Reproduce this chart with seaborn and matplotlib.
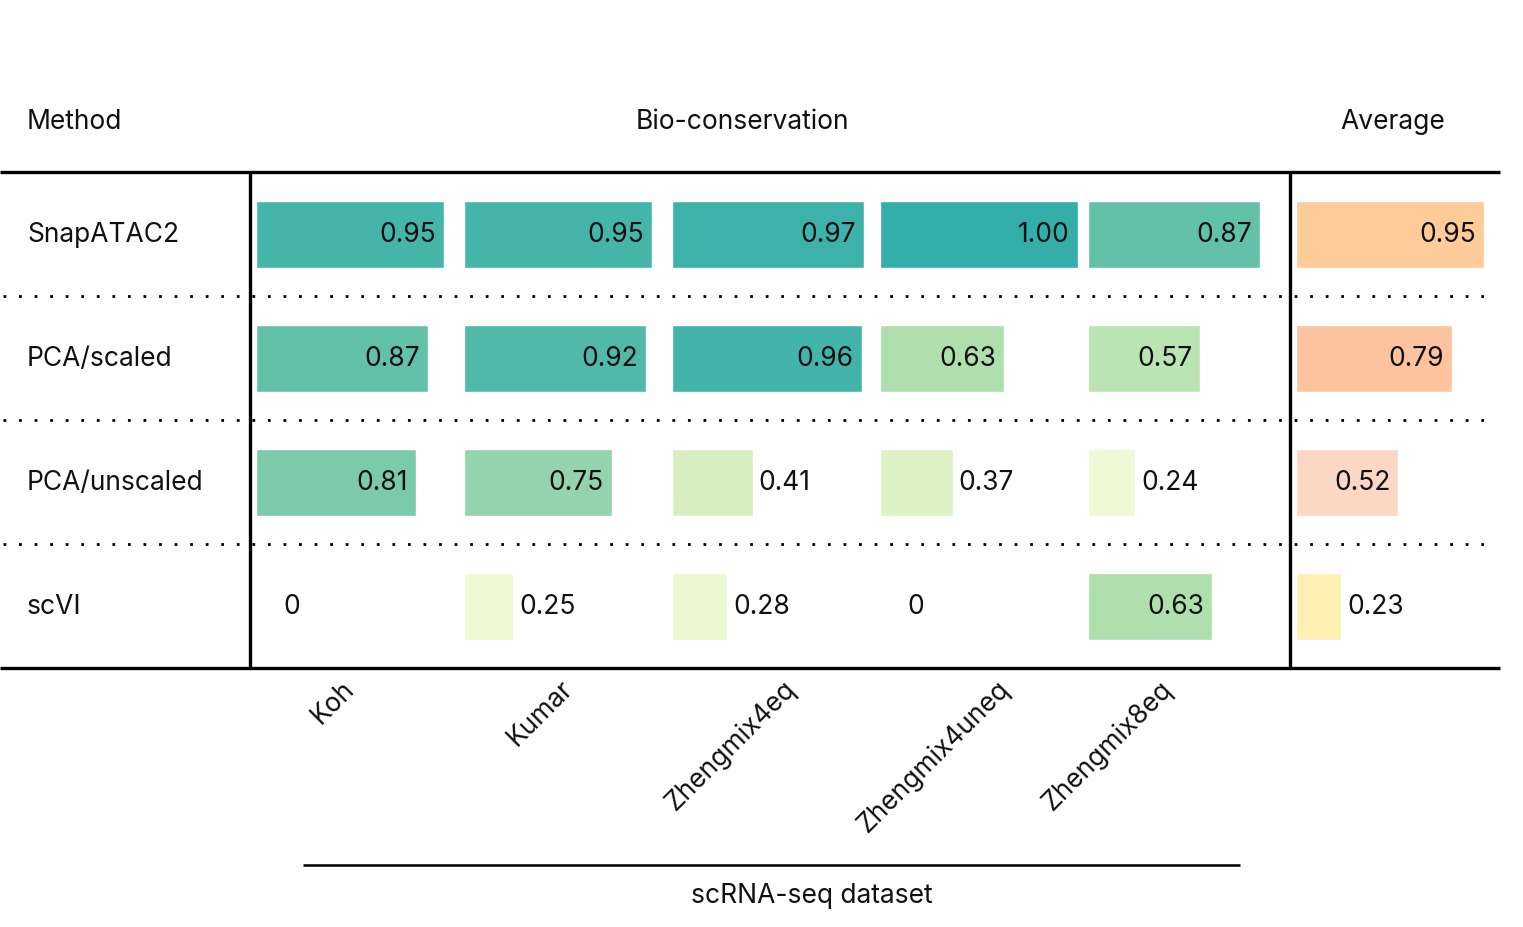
import numpy as np
import pandas as pd
import matplotlib
matplotlib.use("Agg")
import matplotlib.pyplot as plt
import seaborn as sns
from matplotlib.colors import LinearSegmentedColormap

# ---------------- data ----------------
methods = ["SnapATAC2", "PCA/scaled", "PCA/unscaled", "scVI"]
datasets = ["Koh", "Kumar", "Zhengmix4eq", "Zhengmix4uneq", "Zhengmix8eq"]
koh = [0.95, 0.87, 0.81, 0.0]
kumar = [0.95, 0.92, 0.75, 0.25]
zhengmix4eq = [0.97, 0.96, 0.41, 0.28]
zhengmix4uneq = [1.00, 0.63, 0.37, 0.0]
zhengmix8eq = [0.87, 0.57, 0.24, 0.63]
average = [0.95, 0.79, 0.52, 0.23]

header_method = "Method"
header_group = "Bio-conservation"
header_average = "Average"
axis_title = "scRNA-seq dataset"

# ---------------- style ----------------
sns.set_style("white")
plt.rcParams["font.family"] = ["Inter", "DejaVu Sans"]
plt.rcParams["text.color"] = "#111111"
FS = 19
TC = "#111111"

W, H = 1523, 928
fig = plt.figure(figsize=(W / 100, H / 100), dpi=100)

bio_cmap = LinearSegmentedColormap.from_list(
    "bio",
    [(0.0, "#f8fce0"), (0.25, "#eff9d4"), (0.40, "#d8f0c1"), (0.60, "#b4e2ae"),
     (0.75, "#95d3ab"), (0.87, "#63c1a8"), (1.0, "#34aeaa")])
avg_cmap = LinearSegmentedColormap.from_list(
    "avg",
    [(0.0, "#fef7bc"), (0.23, "#fdf0b2"), (0.52, "#fcd8c4"), (0.79, "#fcc39e"),
     (0.95, "#fdcc98"), (1.0, "#fdce96")])

# background axes in pixel coordinates for rules and headers
bg = fig.add_axes([0, 0, 1, 1])
bg.set_xlim(0, W)
bg.set_ylim(H, 0)
bg.axis("off")

top_y, row_h, n_rows = 173, 124, len(methods)
bottom_y = top_y + row_h * n_rows
col_left, col_w, unit_px = 256, 208, 198

# solid rules
bg.plot([0, 1500], [top_y, top_y], color="black", lw=2.4, solid_capstyle="butt")
bg.plot([0, 1500], [bottom_y, bottom_y], color="black", lw=2.4, solid_capstyle="butt")
for vx in (250, 1290):
    bg.plot([vx, vx], [top_y, bottom_y], color="black", lw=2.4, solid_capstyle="butt")
# dotted separators
for r in range(1, n_rows):
    yy = top_y + row_h * r
    bg.plot([3, 1492], [yy, yy], color="black", lw=2.0,
            linestyle=(0, (1, 4.6)), dash_capstyle="butt")

# headers
bg.text(27, 122, header_method, fontsize=FS, ha="left", va="center", color=TC)
bg.text(742, 122, header_group, fontsize=FS, ha="center", va="center", color=TC)
bg.text(1393, 122, header_average, fontsize=FS, ha="center", va="center", color=TC)

# row labels
for r, m in enumerate(methods):
    bg.text(27, top_y + row_h * (r + 0.5), m, fontsize=FS, ha="left", va="center", color=TC)

# column tick labels (rotated)
tick_anchor_x = [341, 560, 782, 996, 1159]
for lab, tx in zip(datasets, tick_anchor_x):
    bg.text(tx, 676, lab, fontsize=FS, rotation=45, rotation_mode="anchor",
            ha="right", va="top", color=TC)

# axis title and rule
bg.plot([303, 1240], [866, 866], color="black", lw=1.8, solid_capstyle="butt")
bg.text(812, 896, axis_title, fontsize=FS, ha="center", va="center", color=TC)

# ---------------- bars ----------------
columns = [koh, kumar, zhengmix4eq, zhengmix4uneq, zhengmix8eq, average]
cmaps = [bio_cmap] * 5 + [avg_cmap]
lefts = [col_left + col_w * i for i in range(5)] + [1296]

for vals, cmap, left in zip(columns, cmaps, lefts):
    ax = fig.add_axes([(left - 0.5) / W, 1 - bottom_y / H, col_w / W, (row_h * n_rows) / H])
    df = pd.DataFrame({"method": methods, "value": vals})
    pal = {m: cmap(v) for m, v in zip(methods, vals)}
    sns.barplot(data=df, x="value", y="method", hue="method", palette=pal,
                legend=False, orient="h", width=67 / row_h, saturation=1,
                errorbar=None, ax=ax)
    ax.set_xlim(0, col_w / unit_px)
    ax.set_ylim(n_rows - 0.5, -0.5)
    ax.axis("off")
    for r, v in enumerate(vals):
        if v == 0:
            ax.text(28 / unit_px, r, "0", fontsize=FS, ha="left", va="center", color=TC)
        elif v >= 0.5:
            ax.text(v - 8 / unit_px, r, f"{v:.2f}", fontsize=FS, ha="right", va="center", color=TC)
        else:
            ax.text(v + 6 / unit_px, r, f"{v:.2f}", fontsize=FS, ha="left", va="center", color=TC)

fig.savefig("out.png", dpi=100, facecolor="white")
